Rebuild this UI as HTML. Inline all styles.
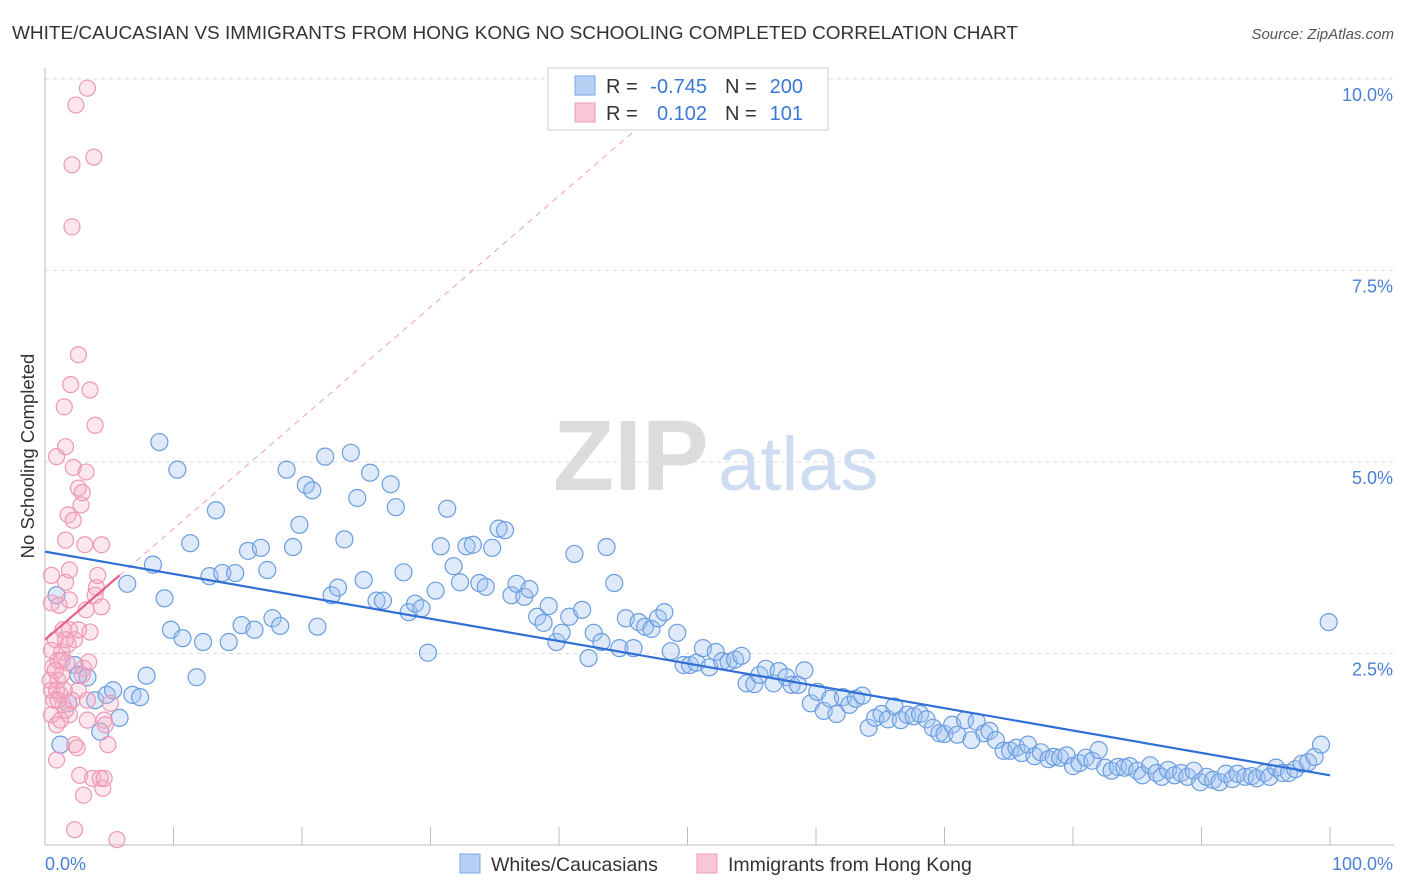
<!DOCTYPE html>
<html><head><meta charset="utf-8">
<style>
body{margin:0;background:#fff;font-family:"Liberation Sans",sans-serif;}
#wrap{position:relative;width:1406px;height:892px;overflow:hidden;}
text{font-family:"Liberation Sans",sans-serif;}
</style></head>
<body>
<div id="wrap">
<svg id="chart" width="1406" height="892"></svg>
</div>
<script>
const xTicksLabels=["0.0%","100.0%"];
const yTickValues=[2.5,5.0,7.5,10.0];
const yTickLabels=["2.5%","5.0%","7.5%","10.0%"];
const blueX=[0.9,1.2,1.8,2.3,2.6,3.3,3.9,4.3,4.8,5.3,5.8,6.4,6.8,7.4,7.9,8.4,8.9,9.3,9.8,10.3,10.7,11.3,11.8,12.3,12.8,13.3,13.8,14.3,14.8,15.3,15.8,16.3,16.8,17.3,17.7,18.3,18.8,19.3,19.8,20.3,20.8,21.2,21.8,22.3,22.8,23.3,23.8,24.3,24.8,25.3,25.8,26.3,26.9,27.3,27.9,28.3,28.8,29.3,29.8,30.4,30.8,31.3,31.8,32.3,32.8,33.3,33.8,34.3,34.8,35.3,35.8,36.3,36.7,37.3,37.7,38.3,38.8,39.2,39.8,40.2,40.8,41.2,41.8,42.3,42.7,43.3,43.7,44.3,44.7,45.2,45.8,46.2,46.7,47.2,47.7,48.2,48.7,49.2,49.7,50.2,50.7,51.2,51.7,52.2,52.7,53.2,53.7,54.2,54.6,55.2,55.6,56.1,56.7,57.1,57.7,58.1,58.6,59.1,59.6,60.1,60.6,61.1,61.6,62.1,62.6,63.1,63.6,64.1,64.6,65.1,65.6,66.1,66.6,67.1,67.6,68.1,68.6,69.1,69.6,70.0,70.6,71.0,71.6,72.1,72.5,73.1,73.5,74.0,74.6,75.1,75.6,76.0,76.5,77.0,77.5,78.1,78.5,79.0,79.5,80.0,80.5,81.0,81.5,82.0,82.5,83.0,83.5,84.0,84.4,85.0,85.4,86.0,86.5,86.9,87.4,87.9,88.4,88.9,89.4,89.9,90.4,90.9,91.4,91.9,92.4,92.8,93.4,93.9,94.3,94.9,95.3,95.8,96.3,96.8,97.3,97.8,98.3,98.8,99.3,99.9];
const blueY=[3.26,1.31,1.85,2.35,2.22,2.19,1.89,1.48,1.96,2.02,1.66,3.41,1.96,1.93,2.21,3.66,5.26,3.22,2.81,4.90,2.70,3.94,2.19,2.65,3.51,4.37,3.55,2.65,3.55,2.87,3.84,2.81,3.88,3.59,2.96,2.86,4.90,3.89,4.18,4.70,4.63,2.85,5.07,3.26,3.36,3.99,5.12,4.53,3.46,4.86,3.19,3.19,4.71,4.41,3.56,3.04,3.15,3.09,2.51,3.32,3.90,4.39,3.64,3.43,3.90,3.92,3.42,3.37,3.88,4.13,4.11,3.26,3.41,3.24,3.34,2.98,2.90,3.12,2.65,2.77,2.98,3.80,3.07,2.44,2.77,2.65,3.89,3.42,2.57,2.96,2.57,2.91,2.85,2.82,2.96,3.04,2.53,2.77,2.35,2.35,2.38,2.57,2.32,2.52,2.40,2.39,2.42,2.47,2.11,2.10,2.22,2.30,2.11,2.27,2.19,2.09,2.09,2.28,1.85,2.00,1.75,1.91,1.71,1.93,1.83,1.91,1.95,1.53,1.66,1.71,1.64,1.81,1.63,1.70,1.68,1.71,1.64,1.53,1.46,1.45,1.57,1.44,1.63,1.37,1.61,1.46,1.49,1.37,1.23,1.23,1.27,1.20,1.31,1.16,1.21,1.12,1.15,1.14,1.17,1.03,1.07,1.14,1.10,1.24,1.01,0.97,1.02,1.01,1.03,0.97,0.91,1.04,0.94,0.89,0.98,0.91,0.94,0.89,0.97,0.82,0.89,0.85,0.82,0.93,0.86,0.93,0.89,0.90,0.87,0.94,0.89,1.01,0.94,0.94,0.99,1.06,1.08,1.15,1.31,2.91];
const pinkX=[0.5,0.5,0.5,0.5,0.6,0.8,0.9,0.9,0.9,1.0,1.1,1.2,1.3,1.4,1.4,1.5,1.6,1.6,1.6,1.7,1.8,1.9,1.9,1.9,2.0,2.1,2.1,2.2,2.2,2.3,2.3,2.4,2.5,2.6,2.6,2.6,2.7,2.8,2.9,3.0,3.0,3.1,3.2,3.2,3.3,3.3,3.4,3.5,3.5,3.7,3.8,3.9,3.9,4.0,4.1,4.3,4.4,4.4,4.5,4.6,4.6,4.7,4.9,5.1,5.6,0.4,0.5,0.7,0.9,1.0,1.2,1.3,1.5,1.6,1.8,1.9,2.1,1.0,1.3,0.8,1.6,2.3,2.6,2.9,3.3];
const pinkY=[3.16,3.52,2.02,1.70,2.32,2.68,1.57,1.11,5.07,2.15,3.13,1.96,2.52,2.81,1.83,5.72,5.20,3.98,3.43,2.38,4.31,3.59,3.20,1.70,6.01,8.07,8.88,4.93,4.24,1.31,0.20,9.66,1.27,6.40,2.02,4.66,0.91,4.44,4.60,2.31,0.65,3.92,3.07,4.87,1.63,9.88,2.39,2.78,5.94,0.87,8.98,5.48,3.26,3.36,3.52,0.87,3.11,3.92,0.74,0.87,1.63,1.57,1.31,1.85,0.07,2.15,2.54,1.89,2.02,2.41,1.63,2.22,2.02,1.76,2.62,2.81,1.89,1.89,2.41,2.28,2.68,2.68,2.81,2.22,1.89];
const blueTrend=[3.83,0.91];
const pinkTrend=[2.68,3.52];

const svg=document.getElementById('chart');
const NS='http://www.w3.org/2000/svg';
const X0=45,X1=1330,YB=845,PXPER=76.6;
const sx=v=>X0+(X1-X0)*v/100;
const sy=v=>YB-v*PXPER;
function el(tag,attrs,parent){const e=document.createElementNS(NS,tag);for(const k in attrs)e.setAttribute(k,attrs[k]);(parent||svg).appendChild(e);return e;}

let t=el('text',{x:12,y:39,'font-size':18.9,fill:'#333',textLength:1006,lengthAdjust:'spacingAndGlyphs'});t.textContent='WHITE/CAUCASIAN VS IMMIGRANTS FROM HONG KONG NO SCHOOLING COMPLETED CORRELATION CHART';


t=el('text',{x:1394,y:39,'font-size':15,fill:'#555','font-style':'italic','text-anchor':'end'});t.textContent='Source: ZipAtlas.com';



yTickValues.forEach((v,i)=>{
  const g=el('line',{x1:X0,x2:1394,y1:sy(v),y2:sy(v),stroke:'#ddd','stroke-dasharray':'4,4'});
  
  
  const l=el('text',{x:1393,y:sy(v)+22,'font-size':18,fill:'#4a7fd6','text-anchor':'end'});l.textContent=yTickLabels[i];
  
  
});
let a=el('line',{x1:X0,x2:X0,y1:68,y2:YB,stroke:'#bbb'});


a=el('line',{x1:X0,x2:1394,y1:YB,y2:YB,stroke:'#bbb'});


for(let i=0;i<=10;i++){const k=el('line',{x1:sx(i*10),x2:sx(i*10),y1:YB,y2:YB-18,stroke:'#bbb'});
  
  }
t=el('text',{x:45,y:870,'font-size':18,fill:'#4a7fd6'});t.textContent=xTicksLabels[0];


t=el('text',{x:1393,y:870,'font-size':18,fill:'#4a7fd6','text-anchor':'end'});t.textContent=xTicksLabels[1];


t=el('text',{x:34,y:456,'font-size':18.5,fill:'#333','text-anchor':'middle',transform:'rotate(-90 34 456)'});t.textContent='No Schooling Completed';



t=el('text',{x:553,y:490,'font-size':100,fill:'#dcdcdc','font-family':'Liberation Serif',"font-weight":"bold"});t.textContent='ZIP';


t=el('text',{x:718,y:490,'font-size':76,fill:'#cddcf0'});t.textContent='atlas';



const slope=(pinkTrend[1]-pinkTrend[0])/5.8;
let d=el('line',{x1:sx(5.8),y1:sy(pinkTrend[1]),x2:sx(47),y2:sy(pinkTrend[0]+slope*47),stroke:'#f0a0b8','stroke-dasharray':'6,5','stroke-width':1});



blueX.forEach((x,i)=>{const c=el('circle',{cx:sx(x),cy:sy(blueY[i]),r:8.5,fill:'rgba(160,195,240,0.35)',stroke:'#6b9de0','stroke-width':1.2});
  
  });
pinkX.forEach((x,i)=>{const c=el('circle',{cx:sx(x),cy:sy(pinkY[i]),r:8,fill:'rgba(245,175,200,0.3)',stroke:'#ee98b6','stroke-width':1.2});
  
  });

d=el('line',{x1:sx(0),y1:sy(blueTrend[0]),x2:sx(100),y2:sy(blueTrend[1]),stroke:'#2f6fd6','stroke-width':2.2});


d=el('line',{x1:sx(0),y1:sy(pinkTrend[0]),x2:sx(5.8),y2:sy(pinkTrend[1]),stroke:'#e8608c','stroke-width':2.2});



const lg=el('g',{});


el('rect',{x:548,y:68,width:280,height:62,fill:'#fff',stroke:'#ccc'},lg);
el('rect',{x:575,y:76,width:20,height:19,fill:'#b8d0f4',stroke:'#7aa6e6'},lg);
el('rect',{x:575,y:103,width:20,height:19,fill:'#f8c8d6',stroke:'#ee9ab6'},lg);
const rows=[[93,'-0.745','200'],[120,'0.102','101']];
rows.forEach((r,i)=>{
  let a1=el('text',{x:606,y:r[0],'font-size':20,fill:'#333'},lg);a1.textContent='R = ';
  let a2=el('text',{x:707,y:r[0],'font-size':20,fill:'#3a78d8','text-anchor':'end'},lg);a2.textContent=r[1];
  let a3=el('text',{x:725,y:r[0],'font-size':20,fill:'#333'},lg);a3.textContent='N = ';
  let a4=el('text',{x:803,y:r[0],'font-size':20,fill:'#3a78d8','text-anchor':'end'},lg);a4.textContent=r[2];
});

const bl=el('g',{});


el('rect',{x:460,y:854,width:20,height:19,fill:'#b8d0f4',stroke:'#7aa6e6'},bl);
t=el('text',{x:491,y:871,'font-size':19.5,fill:'#333'},bl);t.textContent='Whites/Caucasians';
el('rect',{x:697,y:854,width:20,height:19,fill:'#f8c8d6',stroke:'#ee9ab6'},bl);
t=el('text',{x:728,y:871,'font-size':19.5,fill:'#333'},bl);t.textContent='Immigrants from Hong Kong';
</script>
</body></html>
